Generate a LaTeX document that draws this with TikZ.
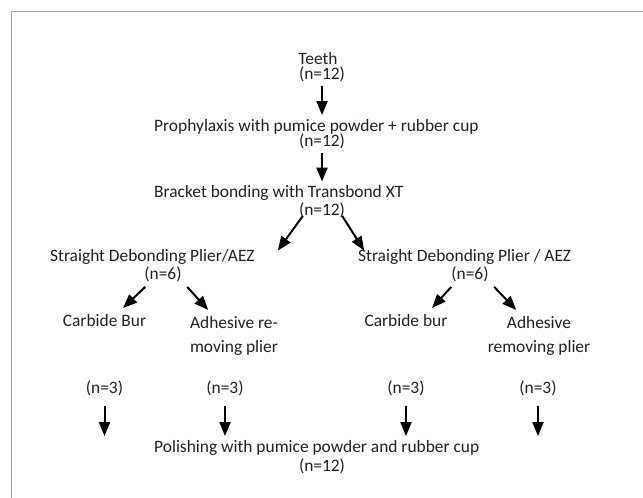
\documentclass[tikz,border=0pt]{standalone}
\usepackage{fontspec}
\setmainfont{Carlito}
\usepackage{xcolor}
\usetikzlibrary{arrows.meta, positioning, calc}
\definecolor{flow_frame}{RGB}{165, 165, 165}
\definecolor{flow_text}{RGB}{35, 31, 32}

\begin{document}
\begin{tikzpicture}[x=1pt, y=-1pt, font=\fontsize{17.4}{20}\selectfont,
          lbl/.style={inner sep=0pt, text=flow_text,
                      text height=11pt, text depth=3.5pt},
          two/.style={inner sep=0pt, text=flow_text, align=center,
                      font=\fontsize{17.4}{24}\selectfont},
          arr/.style={-{Triangle[width=11pt, length=14pt]}, line width=2pt},
          gap/.style={shorten <=3pt, shorten >=5pt}]
          \useasboundingbox (0, 0) rectangle (643, 498);
          \draw[flow_frame, line width=1.5pt] (11.5, 498) |- (643, 11.5);
          \node[lbl] (teeth) at (318, 60.5) {Teeth};
          \node[lbl] (teethn) at (322, 76) {(n=12)};
          \node[lbl, anchor=west] (prophy) at (154, 127.5)
            {Prophylaxis with pumice powder + rubber cup};
          \node[lbl] (prophyn) at (322, 143) {(n=12)};
          \node[lbl, anchor=west] (bond) at (154, 194)
            {Bracket bonding with Transbond XT};
          \node[lbl] (bondn) at (322, 212) {(n=12)};
          \node[lbl, anchor=west] (debl) at (50, 258)
            {Straight Debonding Plier/AEZ};
          \node[lbl] (debln) at (163, 276) {(n=6)};
          \node[lbl, anchor=west] (debr) at (358, 258)
            {Straight Debonding Plier / AEZ};
          \node[lbl] (debrn) at (470, 276) {(n=6)};
          \node[lbl] (burl) at (104.5, 323) {Carbide Bur};
          \node[two] (adhl) at (234, 336) {Adhesive re-\\moving plier};
          \node[lbl] (burr) at (406, 323) {Carbide bur};
          \node[two] (adhr) at (539, 336) {Adhesive\\removing plier};
          \node[lbl] (burln) at (104.5, 390) {(n=3)};
          \node[lbl] (adhln) at (225, 390) {(n=3)};
          \node[lbl] (burrn) at (406, 390) {(n=3)};
          \node[lbl] (adhrn) at (538, 390) {(n=3)};
          \node[lbl, anchor=west] (polish) at (154, 449)
            {Polishing with pumice powder and rubber cup};
          \node[lbl] (polishn) at (322, 468) {(n=12)};
          \draw[arr, gap] (teethn.south) -- (teethn.south |- prophy.north);
          \draw[arr, gap] (prophyn.south) -- (prophyn.south |- bond.north);
          \draw[arr] ($(bondn.south west)+(4, -3.5)$)
            -- ($(bondn.south west |- debl.north)+(-21, 0)$);
          \draw[arr] ($(bondn.south east)+(-3, -3.5)$)
            -- ($(bondn.south east |- debr.north)+(19, 0)$);
          \draw[arr] ($(debln.south west)+(1, 3.5)$) -- ($(burl.north)+(18.5, -7.5)$);
          \draw[arr] ($(debln.south east)+(5.4, 3.5)$) -- ($(debln.south east)+(26.4, 26.5)$);
          \draw[arr] ($(debrn.south west)+(0, 3.5)$) -- ($(burr.north)+(26, -7.5)$);
          \draw[arr] ($(debrn.south east)+(5.4, 3.5)$) -- ($(debrn.south east)+(27.4, 26.5)$);
          \foreach \n in {burln, adhln, burrn, adhrn}
            \draw[arr, shorten <=9pt, shorten >=5.5pt] (\n.south) -- (\n.south |- polish.north);
        \end{tikzpicture}
\end{document}
